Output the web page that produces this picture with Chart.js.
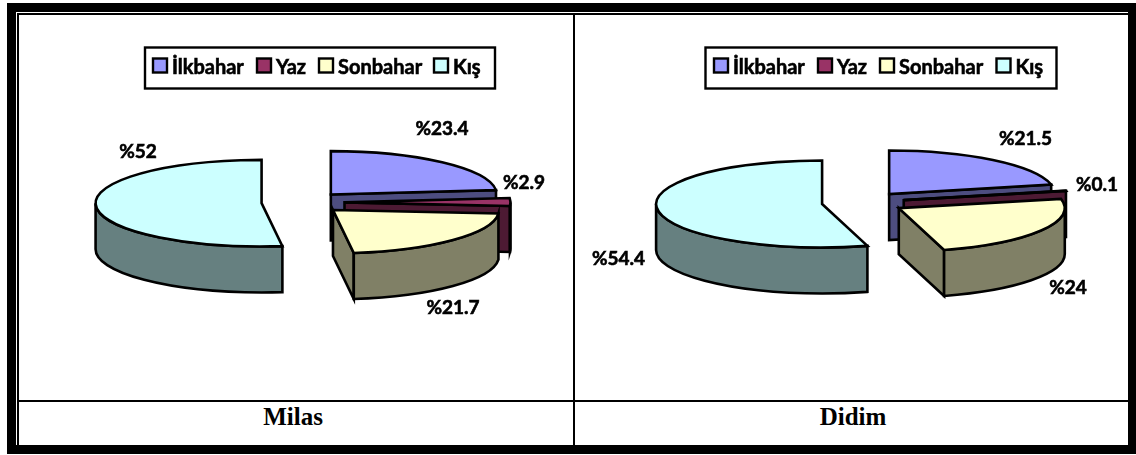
<!DOCTYPE html>
<html>
<head>
<meta charset="utf-8">
<script src="https://cdn.jsdelivr.net/npm/chart.js@4"></script>
<style>
html,body{margin:0;padding:0;background:#fff;width:1136px;height:455px;overflow:hidden}
.b{position:absolute;background:#000}
canvas{position:absolute}
.t{position:absolute;top:402px;height:43px;text-align:center;font:bold 25px "Liberation Serif",serif;line-height:30px;color:#000}
</style>
</head>
<body>
<div class="b" style="left:7px;top:3px;width:1129px;height:9px"></div>
<div class="b" style="left:7px;top:3px;width:9px;height:451px"></div>
<div class="b" style="left:7px;top:445px;width:1129px;height:9px"></div>
<div class="b" style="left:1128px;top:3px;width:8px;height:451px"></div>
<div class="b" style="left:17px;top:13px;width:1111px;height:2px"></div>
<div class="b" style="left:17px;top:13px;width:2px;height:432px"></div>
<div class="b" style="left:17px;top:400px;width:1111px;height:2px"></div>
<div class="b" style="left:573px;top:13px;width:2px;height:432px"></div>
<div class="t" style="left:193px;width:200px">Milas</div>
<div class="t" style="left:753px;width:200px">Didim</div>
<canvas id="c1" width="554" height="385" style="left:19px;top:15px"></canvas>
<canvas id="c2" width="553" height="385" style="left:575px;top:15px"></canvas>
<script>
const categories = ["İlkbahar", "Yaz", "Sonbahar", "Kış"];
const milasValues = [23.4, 2.9, 21.7, 52];
const didimValues = [21.5, 0.1, 24, 54.4];
const milasLabels = ["%23.4", "%2.9", "%21.7", "%52"];
const didimLabels = ["%21.5", "%0.1", "%24", "%54.4"];
const topColors = ["#9999FF", "#993366", "#FFFFCC", "#CCFFFF"];
const sideColors = ["#4D4D80", "#4D1A33", "#808066", "#668080"];

const LABEL_FONT = 'bold 19px Lato, "Open Sans", sans-serif';
const LEGEND_FONT = 'bold 20px Lato, "Open Sans", sans-serif';
const DEPTH = 46;

function boldText(ctx, t, x, y) {
  ctx.lineWidth = 0.6;
  ctx.strokeText(t, x, y);
  ctx.fillText(t, x, y);
}

const pie3d = {
  id: 'pie3d',
  beforeDatasetsDraw(chart) {
    const L = chart.options.plugins.pie3d;
    const ctx = chart.ctx;
    const meta = chart.getDatasetMeta(0);
    const ox = chart.canvas.offsetLeft, oy = chart.canvas.offsetTop;
    ctx.save();
    ctx.lineWidth = 2.6;
    ctx.strokeStyle = '#000';
    ctx.lineJoin = 'miter';
    meta.data.forEach((arc, i) => {
      const a0 = arc.startAngle, a1 = arc.endAngle, r = arc.outerRadius;
      const mid = (a0 + a1) / 2, off = arc.options.offset;
      const ry = r * L.squash;
      const cx = L.cx - ox + Math.cos(mid) * off;
      const cy = L.cy - oy + Math.sin(mid) * off * L.squash;
      const ex = cx + Math.cos(a1) * r, ey = cy + Math.sin(a1) * ry;
      // radial face at the slice's end angle, when it faces the viewer
      if (Math.cos(a1) > 0) {
        ctx.beginPath();
        ctx.moveTo(cx, cy); ctx.lineTo(ex, ey);
        ctx.lineTo(ex, ey + DEPTH); ctx.lineTo(cx, cy + DEPTH);
        ctx.closePath();
        ctx.fillStyle = sideColors[i];
        ctx.fill(); ctx.stroke();
      }
      // outer rim, the part on the near half of the ellipse
      const ra = Math.max(a0, 0), rb = Math.min(a1, Math.PI);
      if (rb > ra) {
        ctx.beginPath();
        ctx.ellipse(cx, cy, r, ry, 0, ra, rb);
        ctx.ellipse(cx, cy + DEPTH, r, ry, 0, rb, ra, true);
        ctx.closePath();
        ctx.fillStyle = sideColors[i];
        ctx.fill(); ctx.stroke();
      }
      // top face
      ctx.beginPath();
      ctx.moveTo(cx, cy);
      ctx.ellipse(cx, cy, r, ry, 0, a0, a1);
      ctx.closePath();
      ctx.fillStyle = arc.options.backgroundColor;
      ctx.fill(); ctx.stroke();
    });
    // value labels
    ctx.fillStyle = '#000';
    ctx.font = LABEL_FONT;
    ctx.textAlign = 'center';
    ctx.textBaseline = 'middle';
    L.texts.forEach((t, i) => boldText(ctx, t, L.textPos[i][0] - ox, L.textPos[i][1] - oy));
    // legend
    const g = L.legend;
    ctx.lineWidth = 2.4;
    ctx.strokeRect(g.x - ox, g.y - oy, g.w, g.h);
    ctx.textAlign = 'left';
    ctx.font = LEGEND_FONT;
    chart.data.labels.forEach((t, i) => {
      const bx = g.boxes[i] - ox, by = g.y + 11 - oy;
      ctx.lineWidth = 2.4;
      ctx.fillStyle = topColors[i];
      ctx.fillRect(bx, by, 14, 14);
      ctx.strokeRect(bx, by, 14, 14);
      ctx.fillStyle = '#000';
      boldText(ctx, t, bx + 19, g.y + 20 - oy);
    });
    ctx.restore();
    return false;
  }
};

function makeChart(id, values, radius, layout) {
  return new Chart(document.getElementById(id), {
    type: 'pie',
    data: {
      labels: categories,
      datasets: [{
        data: values,
        backgroundColor: topColors,
        borderWidth: 0,
        radius: radius,
        offset: radius * 0.25
      }]
    },
    options: {
      responsive: false,
      animation: false,
      events: [],
      plugins: { legend: { display: false }, tooltip: { enabled: false }, pie3d: layout }
    },
    plugins: [pie3d]
  });
}

makeChart('c1', milasValues, 166, {
  cx: 303, cy: 202.5, squash: 0.261,
  texts: milasLabels,
  textPos: [[442, 129], [524, 183], [453, 308], [138, 152]],
  legend: { x: 145, y: 47.5, w: 350, h: 41, boxes: [153, 257, 319, 434] }
});
makeChart('c2', didimValues, 166, {
  cx: 863.2, cy: 202.5, squash: 0.262,
  texts: didimLabels,
  textPos: [[1025.5, 139], [1097, 185], [1068, 288], [618.5, 259]],
  legend: { x: 705.5, y: 47.5, w: 351, h: 41, boxes: [714, 818, 880, 996.5] }
});
</script>
</body>
</html>
